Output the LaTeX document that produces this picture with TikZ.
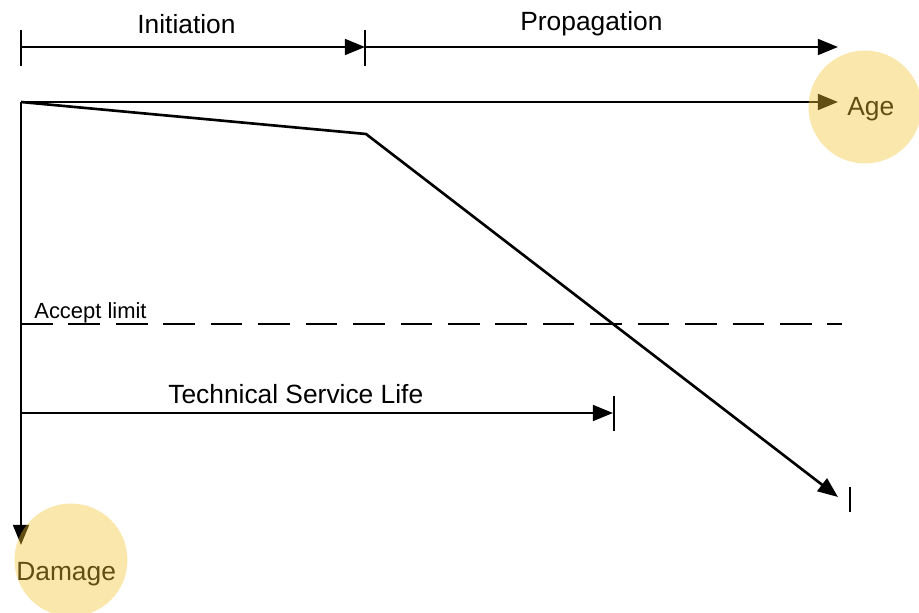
\documentclass[tikz,border=0pt]{standalone}
\usepackage{fontspec}
\setmainfont{Liberation Sans}
\usetikzlibrary{arrows.meta, positioning, calc}
\definecolor{markyellow}{RGB}{242, 195, 47}

\tikzset{
  axisline/.style={line width=1.5pt, -{Triangle[length=11.5pt, width=9pt]}},
  tickline/.style={line width=1.5pt},
  limitline/.style={line width=1.5pt, dash pattern=on 18pt off 9pt},
  biglabel/.style={font=\fontsize{15}{18}\selectfont, inner sep=0pt, anchor=base west},
  smalllabel/.style={font=\fontsize{12.5}{15}\selectfont, inner sep=0pt, anchor=base west},
  highlight/.style={fill=markyellow, fill opacity=0.4}
}

\begin{document}
\begin{tikzpicture}[x=0.02cm, y=-0.02cm]
  \useasboundingbox (0,0) rectangle (919,612);

  % Phase bar
  \coordinate (phase0) at (21,47);
  \coordinate (phase1) at (365,47);
  \coordinate (phase2) at (838,47);
  \draw[tickline] (21,30) -- (21,66);
  \draw[tickline] (365,30) -- (365,66);
  \draw[axisline] (phase0) -- (phase1);
  \draw[axisline] (phase1) -- (phase2);
  \node[biglabel] (initlbl) at (137,33) {Initiation};
  \node[biglabel] (proplbl) at (520,31) {Propagation};

  % Axes
  \coordinate (origin) at (21,102);
  \coordinate (ageend) at (838,102);
  \coordinate (dmgend) at (21,545);
  \draw[axisline] (origin) -- (ageend);
  \draw[axisline] (origin) -- (dmgend);
  \node[biglabel] (agelbl) at (847,115) {Age};
  \node[biglabel] (dmglbl) at (16,580) {Damage};

  % Damage curve
  \coordinate (knee) at (366,134);
  \coordinate (curveend) at (838,497);
  \draw[axisline, line join=round] (origin) -- (knee) -- (curveend);
  \draw[tickline] (850,487) -- (850,512);

  % Accept limit
  \coordinate (limit0) at (21,324);
  \coordinate (limit1) at (842,324);
  \draw[limitline] (limit0) -- (limit1);
  \node[smalllabel] (limitlbl) at (34,318) {Accept limit};

  % Technical service life
  \coordinate (life0) at (21,413);
  \coordinate (life1) at (613,413);
  \draw[axisline] (life0) -- (life1);
  \draw[tickline] (614,396) -- (614,431);
  \node[biglabel] (lifelbl) at (168,403) {Technical Service Life};

  % Highlights
  \fill[highlight] (865,107) circle[radius=1.13cm];
  \fill[highlight] (71,560) circle[radius=1.13cm];
\end{tikzpicture}
\end{document}
